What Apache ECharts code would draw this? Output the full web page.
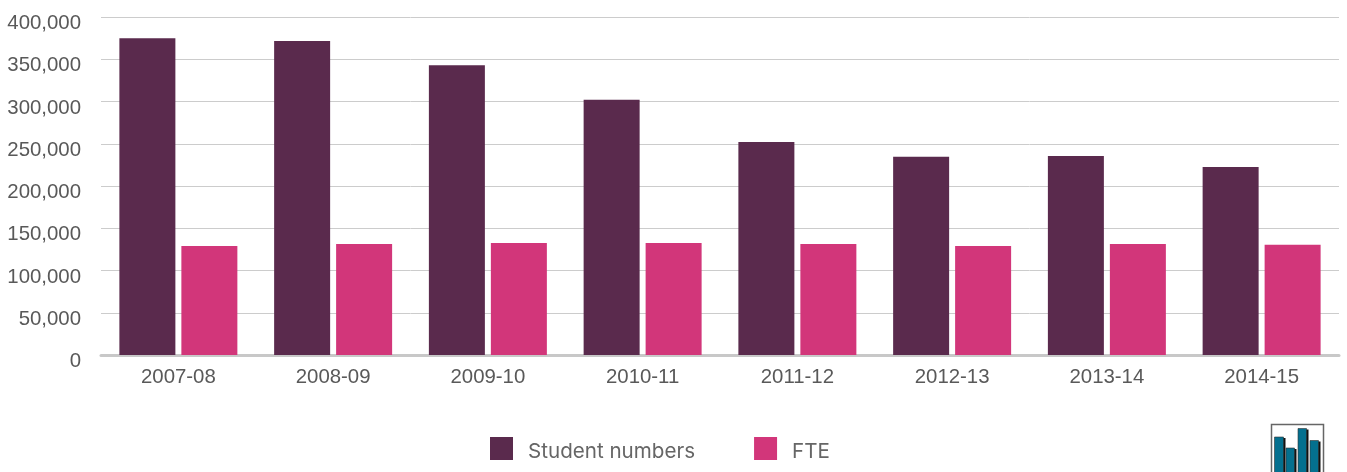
<!DOCTYPE html>
<html><head><meta charset="utf-8">
<style>html,body{margin:0;padding:0;background:#fff}#c{width:1347px;height:472px}</style>
<script src="https://cdn.jsdelivr.net/npm/echarts@6/dist/echarts.min.js"></script>
</head><body><div id="c"></div>
<script>
const categories=['2007-08','2008-09','2009-10','2010-11','2011-12','2012-13','2013-14','2014-15'];
const studentNumbers=[375000,371500,343000,302000,252000,234500,235500,222500];
const fte=[129000,131500,132500,132500,131500,129000,131500,130500];
const seriesNames=['Student numbers','FTE'];
const chart=echarts.init(document.getElementById('c'),null,{renderer:'canvas'});
const font='"Liberation Sans", Arial, sans-serif';
const iconEls=[{type:'rect',shape:{x:1271.5,y:424.5,width:52,height:60},style:{fill:'#fff',stroke:'#666',lineWidth:1.5}}];
[[1274.5,437,9],[1286,448,8.5],[1298,428.5,8.5],[1310,440.5,8.5]].forEach(b=>{
  iconEls.push({type:'rect',shape:{x:b[0]+2,y:b[1]+1,width:b[2],height:60},style:{fill:'#111'}});
  iconEls.push({type:'rect',shape:{x:b[0],y:b[1],width:b[2],height:60},style:{fill:'#04708f',stroke:'#333',lineWidth:0.6}});
});
chart.setOption({
  animation:false,
  grid:{left:101,right:8,top:17,bottom:117,containLabel:false},
  legend:{left:485,top:432,itemWidth:23,itemHeight:23,itemGap:59,icon:'rect',selectedMode:false,
    formatter:n=>'{a|'+n+'}',
    textStyle:{rich:{a:{fontFamily:'Inter, '+font,fontSize:20.6,color:'#666',padding:[6,0,0,10]}}},data:seriesNames},
  xAxis:{type:'category',data:categories,
    axisLine:{lineStyle:{color:'#c8c8c8',width:3}},axisTick:{show:false},
    axisLabel:{fontFamily:font,fontSize:20.4,color:'#595959',margin:12}},
  yAxis:{type:'value',min:0,max:400000,interval:50000,
    axisLine:{show:false},axisTick:{show:false},
    splitLine:{lineStyle:{color:'#cccccc',width:1}},
    axisLabel:{color:'#595959',margin:20,
      formatter:v=>'{a|'+v.toLocaleString('en-US')+'}',
      rich:{a:{fontFamily:font,fontSize:20.4,color:'#595959',padding:[13,0,0,0]}}}},
  series:[
    {name:seriesNames[0],type:'bar',data:studentNumbers,barWidth:56,barGap:'10.7%',itemStyle:{color:'#5a2a4d'},z:5},
    {name:seriesNames[1],type:'bar',data:fte,barWidth:56,barGap:'10.7%',itemStyle:{color:'#d2367a'},z:5}
  ],
  graphic:iconEls
});
</script></body></html>
